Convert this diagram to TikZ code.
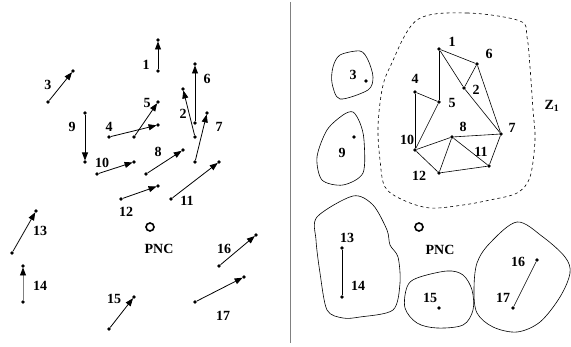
\documentclass[tikz,border=0pt]{standalone}
\usepackage{fontspec}
\setmainfont{Liberation Serif}
\usetikzlibrary{arrows.meta}

\begin{document}
\begin{tikzpicture}[
  x=1pt, y=-1pt,
  dot/.style={circle, fill=black, inner sep=0pt, minimum size=3.6pt},
  lbl/.style={font=\bfseries\fontsize{14}{14}\selectfont, inner sep=0pt},
  mv/.style={-{Triangle[length=8pt, width=6pt, color=black]}, line width=0.8pt, shorten >=-0.5pt},
  lnk/.style={line width=0.6pt},
  blob/.style={line width=0.6pt},
  pnc/.style={circle, draw, line width=1.6pt, inner sep=0pt, minimum size=8pt},
]
  \useasboundingbox (0,0) rectangle (571,347);

  % divider
  \coordinate (top) at (290.5,2);
  \coordinate (bot) at (290.5,343);
  \draw[gray, line width=1.2pt] (top) -- (bot);

  % left: movement of the nodes
  \node[dot] (t1)  at (158,71)  {}; \node[dot] (h1)  at (158,40)  {};
  \node[dot] (t2)  at (195,137) {}; \node[dot] (h2)  at (183,89)  {};
  \node[dot] (t3)  at (48,102)  {}; \node[dot] (h3)  at (73,71)   {};
  \node[dot] (t4)  at (109,137) {}; \node[dot] (h4)  at (158,125) {};
  \node[dot] (t5)  at (134,137) {}; \node[dot] (h5)  at (158,102) {};
  \node[dot] (t6)  at (195,123) {}; \node[dot] (h6)  at (195,64)  {};
  \node[dot] (t7)  at (195,162) {}; \node[dot] (h7)  at (207,113) {};
  \node[dot] (t8)  at (146,174) {}; \node[dot] (h8)  at (183,150) {};
  \node[dot] (t9)  at (85,113)  {}; \node[dot] (h9)  at (85,162)  {};
  \node[dot] (t10) at (97,174)  {}; \node[dot] (h10) at (134,162) {};
  \node[dot] (t11) at (171,199) {}; \node[dot] (h11) at (219,162) {};
  \node[dot] (t12) at (121,199) {}; \node[dot] (h12) at (158,186) {};
  \node[dot] (t13) at (12,253)  {}; \node[dot] (h13) at (36,211)  {};
  \node[dot] (t14) at (23,302)  {}; \node[dot] (h14) at (23,266)  {};
  \node[dot] (t15) at (109,329) {}; \node[dot] (h15) at (134,297) {};
  \node[dot] (t16) at (219,266) {}; \node[dot] (h16) at (256,235) {};
  \node[dot] (t17) at (195,302) {}; \node[dot] (h17) at (244,277) {};

  \draw[mv] (t1) -- (h1);   \draw[mv] (t2) -- (h2);   \draw[mv] (t3) -- (h3);
  \draw[mv] (t4) -- (h4);   \draw[mv] (t5) -- (h5);   \draw[mv] (t6) -- (h6);
  \draw[mv] (t7) -- (h7);   \draw[mv] (t8) -- (h8);   \draw[mv] (t9) -- (h9);
  \draw[mv] (t10) -- (h10); \draw[mv] (t11) -- (h11); \draw[mv] (t12) -- (h12);
  \draw[mv] (t13) -- (h13); \draw[mv, gray] (t14) -- (h14); \draw[mv] (t15) -- (h15);
  \draw[mv] (t16) -- (h16); \draw[mv] (t17) -- (h17);

  \node[lbl] (la1)  at (146,65)  {1};
  \node[lbl] (la2)  at (183,114) {2};
  \node[lbl] (la3)  at (48,85)   {3};
  \node[lbl] (la4)  at (109,127) {4};
  \node[lbl] (la5)  at (147,103) {5};
  \node[lbl] (la6)  at (207,79)  {6};
  \node[lbl] (la7)  at (219,127) {7};
  \node[lbl] (la8)  at (158,152) {8};
  \node[lbl] (la9)  at (72,127)  {9};
  \node[lbl] (la10) at (102,163) {10};
  \node[lbl] (la11) at (187,201) {11};
  \node[lbl] (la12) at (126,212) {12};
  \node[lbl] (la13) at (40,231)  {13};
  \node[lbl] (la14) at (40,286)  {14};
  \node[lbl] (la15) at (114,299) {15};
  \node[lbl] (la16) at (224,249) {16};
  \node[lbl] (la17) at (223,316) {17};
  \node[pnc] (pncL) at (150,227) {};
  \node[lbl] (lpncL) at (159,249) {PNC};

  % right: zones
  \draw[blob, dashed] plot[smooth cycle, tension=0.55] coordinates {
    (417,20) (467,13) (520,21) (527,37) (530,67) (533,110) (535,140) (530,177)
    (517,193) (490,200) (463,205) (430,208) (403,200) (385,187) (380,160)
    (378,127) (382,90) (390,67)};
  \draw[blob] plot[smooth cycle, tension=0.5] coordinates {
    (333,67) (340,55) (360,51) (368,60) (373,77) (368,90) (340,99) (332,83)};
  \draw[blob] plot[smooth cycle, tension=0.5] coordinates {
    (343,115) (353,112) (360,123) (364,140) (363,173) (343,185) (322,180)
    (317,157) (327,130)};
  \draw[blob] plot[smooth cycle, tension=0.5] coordinates {
    (317,217) (353,196) (373,205) (387,230) (390,245) (398,257) (400,283)
    (393,310) (360,317) (343,318) (327,310) (320,273) (316,240)};
  \draw[blob] plot[smooth cycle, tension=0.55] coordinates {
    (407,287) (417,278) (447,271) (463,275) (472,290) (473,310) (463,325)
    (437,328) (417,323) (405,308)};
  \draw[blob] plot[smooth cycle, tension=0.55] coordinates {
    (477,263) (490,243) (517,222) (543,237) (565,257) (570,273) (560,297)
    (540,322) (517,332) (493,327) (477,313) (474,290)};

  \node[dot] (p1)  at (439,49)  {};
  \node[dot] (p2)  at (464,88)  {};
  \node[dot] (p3)  at (366,81)  {};
  \node[dot] (p4)  at (415,92)  {};
  \node[dot] (p5)  at (439,102) {};
  \node[dot] (p6)  at (477,64)  {};
  \node[dot] (p7)  at (501,134) {};
  \node[dot] (p8)  at (452,137) {};
  \node[dot] (p9)  at (354,137) {};
  \node[dot] (p10) at (415,150) {};
  \node[dot] (p11) at (489,166) {};
  \node[dot] (p12) at (439,173) {};
  \node[dot] (p13) at (342,248) {};
  \node[dot] (p14) at (342,297) {};
  \node[dot] (p15) at (439,308) {};
  \node[dot] (p16) at (537,260) {};
  \node[dot] (p17) at (513,308) {};

  \draw[lnk] (p1) -- (p6);  \draw[lnk] (p1) -- (p2);  \draw[lnk] (p1) -- (p5);
  \draw[lnk] (p6) -- (p2);  \draw[lnk] (p6) -- (p7);  \draw[lnk] (p2) -- (p7);
  \draw[lnk] (p4) -- (p5);  \draw[lnk] (p4) -- (p10); \draw[lnk] (p5) -- (p10);
  \draw[lnk] (p10) -- (p8); \draw[lnk] (p10) -- (p12); \draw[lnk] (p8) -- (p7);
  \draw[lnk] (p8) -- (p11); \draw[lnk] (p8) -- (p12); \draw[lnk] (p12) -- (p11);
  \draw[lnk] (p11) -- (p7); \draw[lnk] (p13) -- (p14); \draw[lnk] (p16) -- (p17);

  \node[lbl] (lb1)  at (452,42)  {1};
  \node[lbl] (lb2)  at (476,90)  {2};
  \node[lbl] (lb3)  at (353,75)  {3};
  \node[lbl] (lb4)  at (415,79)  {4};
  \node[lbl] (lb5)  at (452,103) {5};
  \node[lbl] (lb6)  at (489,54)  {6};
  \node[lbl] (lb7)  at (512,128) {7};
  \node[lbl] (lb8)  at (463,127) {8};
  \node[lbl] (lb9)  at (342,153) {9};
  \node[lbl] (lb10) at (407,140) {10};
  \node[lbl] (lb11) at (481,152) {11};
  \node[lbl] (lb12) at (419,176) {12};
  \node[lbl] (lb13) at (347,238) {13};
  \node[lbl] (lb14) at (358,286) {14};
  \node[lbl] (lb15) at (430,298) {15};
  \node[lbl] (lb16) at (518,262) {16};
  \node[lbl] (lb17) at (503,298) {17};
  \node[lbl] (lz1)  at (552,106) {Z\textsubscript{1}};
  \node[pnc] (pncR) at (419,227) {};
  \node[lbl] (lpncR) at (440,250) {PNC};
\end{tikzpicture}
\end{document}
